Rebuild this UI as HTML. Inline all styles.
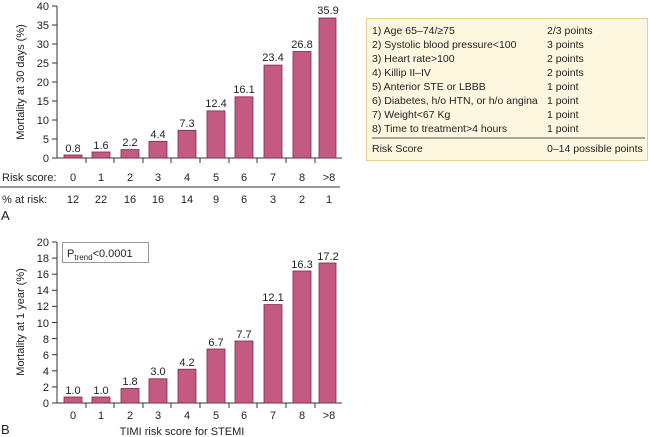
<!DOCTYPE html>
<html><head><meta charset="utf-8"><style>body{margin:0;background:#fff}svg{display:block;font-family:"Liberation Sans",sans-serif}</style></head><body>
<svg width="650" height="437" xmlns="http://www.w3.org/2000/svg">
<g font-size="11" fill="#222">
<!-- Chart A -->
<line x1="57" y1="6" x2="57" y2="158" stroke="#333"/>
<line x1="57" y1="158" x2="342" y2="158" stroke="#333"/>
<g stroke="#333">
<line x1="52" y1="158" x2="57" y2="158"/><line x1="52" y1="139" x2="57" y2="139"/><line x1="52" y1="120" x2="57" y2="120"/><line x1="52" y1="101" x2="57" y2="101"/><line x1="52" y1="82" x2="57" y2="82"/><line x1="52" y1="63" x2="57" y2="63"/><line x1="52" y1="44" x2="57" y2="44"/><line x1="52" y1="25" x2="57" y2="25"/><line x1="52" y1="6" x2="57" y2="6"/>
<line x1="86" y1="158" x2="86" y2="163"/><line x1="114" y1="158" x2="114" y2="163"/><line x1="143" y1="158" x2="143" y2="163"/><line x1="171" y1="158" x2="171" y2="163"/><line x1="200" y1="158" x2="200" y2="163"/><line x1="229" y1="158" x2="229" y2="163"/><line x1="257" y1="158" x2="257" y2="163"/><line x1="286" y1="158" x2="286" y2="163"/><line x1="315" y1="158" x2="315" y2="163"/>
</g>
<g text-anchor="end"><text x="49" y="162">0</text><text x="49" y="143">5</text><text x="49" y="124">10</text><text x="49" y="105">15</text><text x="49" y="86">20</text><text x="49" y="67">25</text><text x="49" y="48">30</text><text x="49" y="29">35</text><text x="49" y="10">40</text></g>
<text transform="translate(24,82) rotate(-90)" text-anchor="middle">Mortality at 30 days (%)</text>
<g fill="#c25a82" stroke="#7a2a4a" stroke-width="0.8">
<rect x="64" y="155" width="18" height="3"/><rect x="92" y="152" width="18" height="6"/><rect x="121" y="149.6" width="18" height="8.4"/><rect x="149" y="141.3" width="18" height="16.7"/><rect x="178" y="130.3" width="18" height="27.7"/><rect x="207" y="110.9" width="18" height="47.1"/><rect x="235" y="96.8" width="18" height="61.2"/><rect x="264" y="65.1" width="18" height="92.9"/><rect x="293" y="51.5" width="18" height="106.5"/><rect x="319" y="18" width="17" height="140"/>
</g>
<g text-anchor="middle"><text x="73" y="152">0.8</text><text x="101" y="149">1.6</text><text x="130" y="146">2.2</text><text x="158" y="138">4.4</text><text x="187" y="127">7.3</text><text x="216" y="107">12.4</text><text x="244" y="93">16.1</text><text x="273" y="61">23.4</text><text x="302" y="48">26.8</text><text x="328" y="14">35.9</text></g>
<text x="2" y="181">Risk score:</text>
<g text-anchor="middle"><text x="73" y="181">0</text><text x="101" y="181">1</text><text x="130" y="181">2</text><text x="158" y="181">3</text><text x="187" y="181">4</text><text x="216" y="181">5</text><text x="244" y="181">6</text><text x="273" y="181">7</text><text x="302" y="181">8</text><text x="329" y="181">&gt;8</text></g>
<line x1="0" y1="187" x2="340" y2="187" stroke="#333"/>
<text x="2" y="203">% at risk:</text>
<g text-anchor="middle"><text x="73" y="203">12</text><text x="101" y="203">22</text><text x="130" y="203">16</text><text x="158" y="203">16</text><text x="187" y="203">14</text><text x="216" y="203">9</text><text x="244" y="203">6</text><text x="273" y="203">3</text><text x="302" y="203">2</text><text x="329" y="203">1</text></g>
<text x="1" y="220" font-size="13">A</text>

<!-- Table -->
<rect x="366.5" y="18.5" width="281" height="142" fill="#fdf7df" stroke="#e3cf98"/>
<g font-size="10.5">
<text x="372" y="34">1) Age 65–74/≥75</text><text x="547" y="34">2/3 points</text>
<text x="372" y="48">2) Systolic blood pressure&lt;100</text><text x="547" y="48">3 points</text>
<text x="372" y="62">3) Heart rate&gt;100</text><text x="547" y="62">2 points</text>
<text x="372" y="76">4) Killip II–IV</text><text x="547" y="76">2 points</text>
<text x="372" y="90">5) Anterior STE or LBBB</text><text x="547" y="90">1 point</text>
<text x="372" y="104">6) Diabetes, h/o HTN, or h/o angina</text><text x="547" y="104">1 point</text>
<text x="372" y="118">7) Weight&lt;67 Kg</text><text x="547" y="118">1 point</text>
<text x="372" y="132">8) Time to treatment&gt;4 hours</text><text x="547" y="132">1 point</text>
<line x1="372" y1="138" x2="645" y2="138" stroke="#555"/>
<text x="372" y="152">Risk Score</text><text x="547" y="152">0–14 possible points</text>
</g>

<!-- Chart B -->
<line x1="57" y1="242" x2="57" y2="403" stroke="#333"/>
<line x1="57" y1="403" x2="342" y2="403" stroke="#333"/>
<g stroke="#333">
<line x1="52" y1="403" x2="57" y2="403"/><line x1="52" y1="386.9" x2="57" y2="386.9"/><line x1="52" y1="370.8" x2="57" y2="370.8"/><line x1="52" y1="354.7" x2="57" y2="354.7"/><line x1="52" y1="338.6" x2="57" y2="338.6"/><line x1="52" y1="322.5" x2="57" y2="322.5"/><line x1="52" y1="306.4" x2="57" y2="306.4"/><line x1="52" y1="290.3" x2="57" y2="290.3"/><line x1="52" y1="274.2" x2="57" y2="274.2"/><line x1="52" y1="258.1" x2="57" y2="258.1"/><line x1="52" y1="242" x2="57" y2="242"/>
<line x1="86" y1="403" x2="86" y2="408"/><line x1="114" y1="403" x2="114" y2="408"/><line x1="143" y1="403" x2="143" y2="408"/><line x1="171" y1="403" x2="171" y2="408"/><line x1="200" y1="403" x2="200" y2="408"/><line x1="229" y1="403" x2="229" y2="408"/><line x1="257" y1="403" x2="257" y2="408"/><line x1="286" y1="403" x2="286" y2="408"/><line x1="315" y1="403" x2="315" y2="408"/>
</g>
<g text-anchor="end"><text x="49" y="407">0</text><text x="49" y="391">2</text><text x="49" y="375">4</text><text x="49" y="359">6</text><text x="49" y="343">8</text><text x="49" y="327">10</text><text x="49" y="310">12</text><text x="49" y="294">14</text><text x="49" y="278">16</text><text x="49" y="262">18</text><text x="49" y="246">20</text></g>
<text transform="translate(24,322) rotate(-90)" text-anchor="middle">Mortality at 1 year (%)</text>
<rect x="62.5" y="242.5" width="86" height="20" fill="#fff" stroke="#999"/>
<text x="67" y="257">P<tspan font-size="8" dy="3">trend</tspan><tspan dy="-3">&lt;0.0001</tspan></text>
<g fill="#c25a82" stroke="#7a2a4a" stroke-width="0.8">
<rect x="64" y="397" width="18" height="6"/><rect x="92" y="397" width="18" height="6"/><rect x="121" y="388.5" width="18" height="14.5"/><rect x="149" y="378.8" width="18" height="24.2"/><rect x="178" y="369.2" width="18" height="33.8"/><rect x="207" y="349" width="18" height="54"/><rect x="235" y="341" width="18" height="62"/><rect x="264" y="304.6" width="18" height="98.4"/><rect x="293" y="271" width="18" height="132"/><rect x="319" y="263" width="17" height="140"/>
</g>
<g text-anchor="middle"><text x="73" y="394">1.0</text><text x="101" y="394">1.0</text><text x="130" y="385">1.8</text><text x="158" y="375">3.0</text><text x="187" y="366">4.2</text><text x="216" y="346">6.7</text><text x="244" y="338">7.7</text><text x="273" y="301">12.1</text><text x="302" y="268">16.3</text><text x="328" y="260">17.2</text></g>
<g text-anchor="middle"><text x="73" y="419">0</text><text x="101" y="419">1</text><text x="130" y="419">2</text><text x="158" y="419">3</text><text x="187" y="419">4</text><text x="216" y="419">5</text><text x="244" y="419">6</text><text x="273" y="419">7</text><text x="302" y="419">8</text><text x="329" y="419">&gt;8</text></g>
<text x="182" y="435" text-anchor="middle">TIMI risk score for STEMI</text>
<text x="1" y="434" font-size="13">B</text>
</g>
</svg>
</body></html>
